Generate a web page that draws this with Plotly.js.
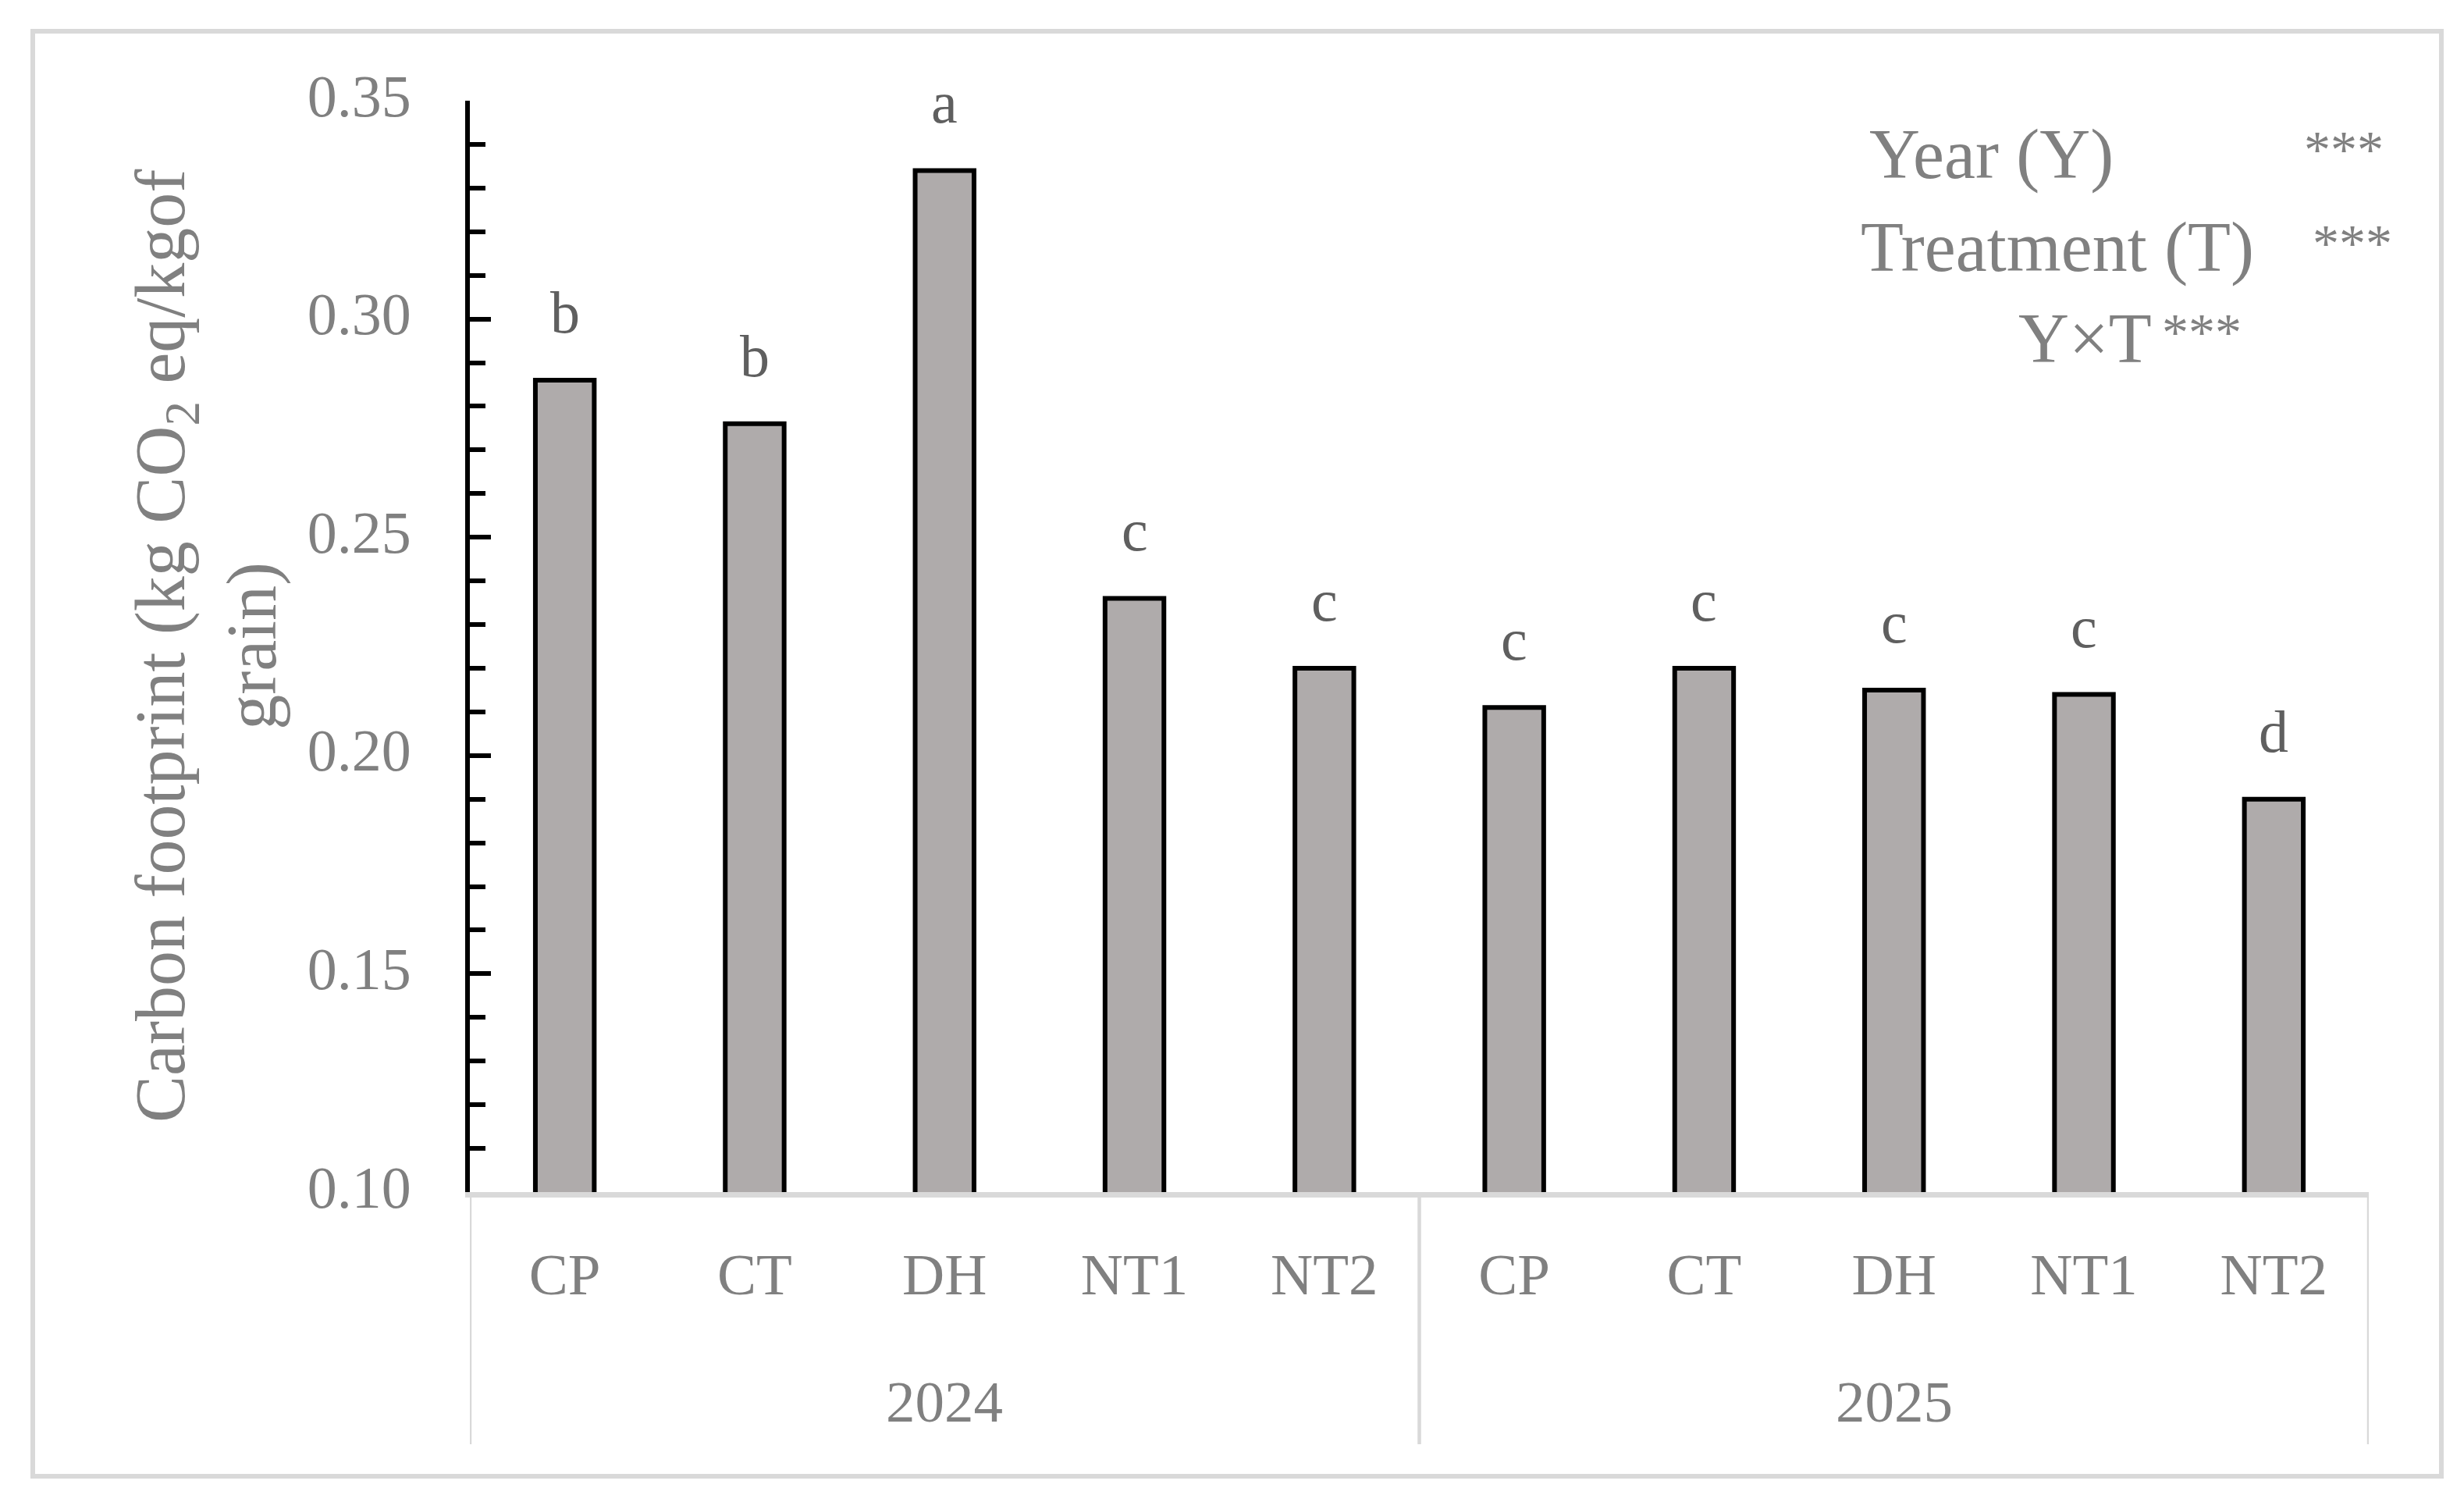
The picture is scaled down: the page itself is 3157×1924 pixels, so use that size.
<!DOCTYPE html>
<html>
<head>
<meta charset="utf-8">
<script src="https://cdn.plot.ly/plotly-3.0.1.min.js"></script>
<style>html,body{margin:0;padding:0;background:#fff;}#chart{width:3157px;height:1924px;}</style>
</head>
<body>
<div id="chart"></div>
<script>
// ---- data ----
const years = ["2024","2024","2024","2024","2024","2025","2025","2025","2025","2025"];
const treatments = ["CP","CT","DH","NT1","NT2","CP","CT","DH","NT1","NT2"];
const carbonFootprint = [0.286, 0.276, 0.334, 0.236, 0.220, 0.211, 0.220, 0.215, 0.214, 0.190];
const letters = ["b","b","a","c","c","c","c","c","c","d"];
const yTickVals = [0.10, 0.15, 0.20, 0.25, 0.30, 0.35];
const yTickText = ["0.10","0.15","0.20","0.25","0.30","0.35"];
const statsLabels = ["Year (Y)", "Treatment (T)", "Y×T"];
const statsStars = ["***", "***", "***"];

// ---- geometry helpers (pixel -> paper) ----
const W = 3157, H = 1924;
const L = 602, R = 3035, T = 129, B = 1527;
const px = x => (x - L) / (R - L);
const py = y => (B - y) / (B - T);

const FONT = "Liberation Serif, Times New Roman, serif";
const GRAY = "#808080";
const LETTER = "#5f5f5f";
const BOX = "#d9d9d9";

const idx = treatments.map((_, i) => i);

const trace = {
  type: "bar",
  x: idx,
  y: carbonFootprint,
  marker: { color: "#AFABAB", line: { color: "#000000", width: 6 } },
  hoverinfo: "skip"
};

const annotations = [];
// significance letters
idx.forEach(i => {
  annotations.push({
    xref: "x", yref: "y", x: i, y: carbonFootprint[i],
    text: letters[i], showarrow: false, xanchor: "center", yanchor: "bottom",
    yshift: 43, font: { family: FONT, size: 76, color: LETTER }
  });
});
// year group labels
const groups = [];
years.forEach((y, i) => {
  if (!groups.length || groups[groups.length - 1].name !== y) groups.push({ name: y, start: i, end: i });
  else groups[groups.length - 1].end = i;
});
groups.forEach(g => {
  annotations.push({
    xref: "x", yref: "paper", x: (g.start + g.end) / 2, y: py(1795),
    text: g.name, showarrow: false, xanchor: "center", yanchor: "middle",
    font: { family: FONT, size: 75, color: GRAY }
  });
});
// y-axis title
annotations.push({
  xref: "paper", yref: "paper", x: px(264), y: py(828),
  text: "Carbon footprint (kg CO<sub>2</sub> eq/kgof<br>grain)",
  showarrow: false, textangle: -90, xanchor: "center", yanchor: "middle", align: "center",
  font: { family: FONT, size: 90, color: GRAY }
});
// stats text
const statX = [2393, 2382, 2584];
const statMid = [198, 317, 433];
const starX = [2950, 2961, 2768];
const starMid = [191, 311, 425];
statsLabels.forEach((s, i) => {
  annotations.push({
    xref: "paper", yref: "paper", x: px(statX[i]), y: py(statMid[i]),
    text: s, showarrow: false, xanchor: "left", yanchor: "middle",
    font: { family: FONT, size: 90, color: GRAY }
  });
  annotations.push({
    xref: "paper", yref: "paper", x: px(starX[i]), y: py(starMid[i]),
    text: statsStars[i], showarrow: false, xanchor: "left", yanchor: "middle",
    font: { family: FONT, size: 68, color: GRAY }
  });
});

const shapes = [];
// dividers of the category box
const bounds = [-0.5].concat(groups.map(g => g.end + 0.5));
bounds.forEach(b => {
  shapes.push({
    type: "line", xref: "x", yref: "paper", x0: b, x1: b, y0: 0, y1: py(1850),
    line: { color: BOX, width: 4.5 }
  });
});
// outer chart border
shapes.push({
  type: "rect", xref: "paper", yref: "paper",
  x0: px(42), x1: px(3128), y0: py(1891), y1: py(40),
  line: { color: BOX, width: 6 }, fillcolor: "rgba(0,0,0,0)"
});

const layout = {
  width: W, height: H,
  margin: { l: L, r: W - R, t: T, b: H - B, pad: 0 },
  paper_bgcolor: "#ffffff", plot_bgcolor: "#ffffff",
  showlegend: false,
  bargap: 0.69,
  font: { family: FONT, color: GRAY },
  xaxis: {
    range: [-0.5, treatments.length - 0.5],
    tickmode: "array", tickvals: idx, ticktext: treatments,
    ticks: "", showgrid: false, zeroline: false,
    showline: true, linecolor: BOX, linewidth: 7,
    tickfont: { family: FONT, size: 75, color: GRAY },
    ticklabelstandoff: 34,
    fixedrange: true
  },
  yaxis: {
    range: [0.10, 0.35],
    tickmode: "array", tickvals: yTickVals, ticktext: yTickText,
    ticks: "inside", ticklen: 27, tickwidth: 6, tickcolor: "#000000",
    minor: { dtick: 0.01, ticks: "inside", ticklen: 20, tickwidth: 6, tickcolor: "#000000", showgrid: false },
    showline: true, linecolor: "#000000", linewidth: 6,
    showgrid: false, zeroline: false,
    tickfont: { family: FONT, size: 76, color: GRAY },
    ticklabelstandoff: 54,
    ticklabelshift: -7,
    fixedrange: true
  },
  annotations: annotations,
  shapes: shapes
};

Plotly.newPlot("chart", [trace], layout, { staticPlot: true, displayModeBar: false });
</script>
</body>
</html>
